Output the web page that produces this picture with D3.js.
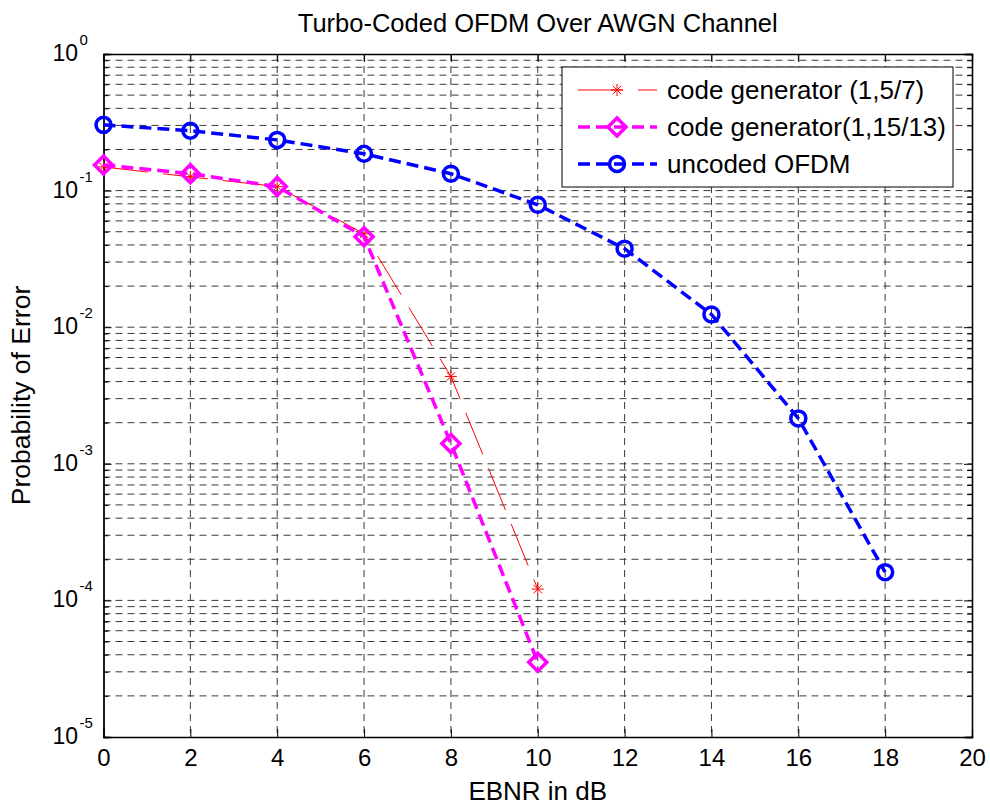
<!DOCTYPE html>
<html>
<head>
<meta charset="utf-8">
<script src="https://cdn.jsdelivr.net/npm/d3@7"></script>
<style>
  body { margin: 0; background: #fff; }
  text { font-family: "Liberation Sans", Arial, sans-serif; fill: #000; }
</style>
</head>
<body>
<div id="chart"></div>
<script>
// data
var ebnr = [0, 2, 4, 6, 8, 10, 12, 14, 16, 18];
var gen57 = [0.149, 0.126, 0.107, 0.0483, 0.00436, 0.000121];
var gen1513 = [0.154, 0.133, 0.107, 0.046, 0.00141, 0.0000353];
var uncoded = [0.303, 0.274, 0.235, 0.186, 0.133, 0.0787, 0.0376, 0.0124, 0.00215, 0.000161];
var xTicks = [0, 2, 4, 6, 8, 10, 12, 14, 16, 18, 20];
var yExp = [0, -1, -2, -3, -4, -5];

var svgW = 990, svgH = 807;
var margin = { top: 54, right: 18, bottom: 70, left: 103.5 };
var chartW = svgW - margin.left - margin.right;
var chartH = svgH - margin.top - margin.bottom;

var svg = d3.select("#chart").append("svg")
    .attr("width", svgW)
    .attr("height", svgH);

var chartG = svg.append("g")
    .attr("transform", `translate(${margin.left}, ${margin.top})`);

var xScale = d3.scaleLinear().domain([0, 20]).range([0, chartW]);
var yScale = d3.scaleLog().domain([1e-5, 1]).range([chartH, 0]);

// minor log positions
var minorY = [];
yExp.slice(1).forEach(function(e) {
    for (var k = 2; k <= 9; k++) minorY.push(k * Math.pow(10, e));
});

// grid
var gridG = chartG.append("g")
    .attr("stroke", "#3a3a3a")
    .attr("stroke-width", 1)
    .attr("stroke-dasharray", "7,5");

gridG.selectAll(".gx")
    .data(xTicks.slice(1, -1))
    .enter().append("line")
    .attr("x1", function(d) { return xScale(d) })
    .attr("x2", function(d) { return xScale(d) })
    .attr("y1", 0).attr("y2", chartH);

gridG.selectAll(".gy")
    .data(yExp.slice(1, -1).map(function(e) { return Math.pow(10, e) }).concat(minorY))
    .enter().append("line")
    .attr("x1", 0).attr("x2", chartW)
    .attr("y1", function(d) { return yScale(d) })
    .attr("y2", function(d) { return yScale(d) });

// axes with inward ticks
var bAxis = d3.axisBottom(xScale).tickValues(xTicks).tickSize(-8).tickPadding(12).tickFormat(d3.format("d"));
var tAxis = d3.axisTop(xScale).tickValues(xTicks).tickSize(-8).tickFormat("");
var lAxis = d3.axisLeft(yScale).tickValues(yExp.map(function(e) { return Math.pow(10, e) })).tickSize(-8).tickFormat("");
var rAxis = d3.axisRight(yScale).tickValues(yExp.map(function(e) { return Math.pow(10, e) })).tickSize(-8).tickFormat("");
var lMinor = d3.axisLeft(yScale).tickValues(minorY).tickSize(-5).tickFormat("");
var rMinor = d3.axisRight(yScale).tickValues(minorY).tickSize(-5).tickFormat("");

var xAxis = chartG.append("g").attr("transform", `translate(0, ${chartH})`).call(bAxis);
chartG.append("g").call(tAxis);
chartG.append("g").call(lAxis);
chartG.append("g").attr("transform", `translate(${chartW}, 0)`).call(rAxis);
chartG.append("g").call(lMinor);
chartG.append("g").attr("transform", `translate(${chartW}, 0)`).call(rMinor);

chartG.selectAll(".domain").attr("stroke", "#000").attr("stroke-width", 1.3);
chartG.selectAll(".tick line").attr("stroke", "#000");
xAxis.selectAll("text")
    .attr("dy", "0.71em")
    .style("font-family", "'Liberation Sans', Arial, sans-serif")
    .style("font-size", "24px")
    .attr("fill", "#000");

// y tick labels 10^e
var yLab = chartG.append("g").selectAll("g")
    .data(yExp)
    .enter().append("g")
    .attr("transform", function(e) { return `translate(0, ${yScale(Math.pow(10, e))})` });
yLab.append("text")
    .attr("x", -25.5)
    .attr("y", 7)
    .attr("text-anchor", "end")
    .style("font-size", "23px")
    .text("10");
yLab.append("text")
    .attr("x", -24)
    .attr("y", -9)
    .style("font-size", "15px")
    .text(function(e) { return e });

// lines
var line = d3.line()
    .x(function(d) { return xScale(d[0]) })
    .y(function(d) { return yScale(d[1]) });

var series = [
    { name: "code generator (1,5/7)", vals: gen57, color: "#ff0000", width: 1, dash: "45,15", marker: "star" },
    { name: "code generator(1,15/13)", vals: gen1513, color: "#ff00ff", width: 3.5, dash: "12,6", marker: "diamond" },
    { name: "uncoded OFDM", vals: uncoded, color: "#0000ff", width: 3.5, dash: "12,6", marker: "circle" }
];

function drawMarker(g, s, x, y) {
    if (s.marker == "star") {
        var r = 6;
        var st = g.append("g").attr("transform", `translate(${x}, ${y})`)
            .attr("stroke", s.color).attr("stroke-width", 1);
        st.append("line").attr("x1", -r).attr("x2", r).attr("y1", 0).attr("y2", 0);
        st.append("line").attr("x1", 0).attr("x2", 0).attr("y1", -r).attr("y2", r);
        st.append("line").attr("x1", -r * 0.7).attr("x2", r * 0.7).attr("y1", -r * 0.7).attr("y2", r * 0.7);
        st.append("line").attr("x1", -r * 0.7).attr("x2", r * 0.7).attr("y1", r * 0.7).attr("y2", -r * 0.7);
    } else if (s.marker == "diamond") {
        var r = 9;
        g.append("path")
            .attr("d", `M${x},${y - r}L${x + r},${y}L${x},${y + r}L${x - r},${y}Z`)
            .attr("fill", "none").attr("stroke", s.color).attr("stroke-width", 3.5);
    } else {
        g.append("circle")
            .attr("cx", x).attr("cy", y).attr("r", 7.5)
            .attr("fill", "none").attr("stroke", s.color).attr("stroke-width", 3.5);
    }
}

series.forEach(function(s) {
    var pts = s.vals.map(function(v, i) { return [ebnr[i], v] });
    chartG.append("path")
        .datum(pts)
        .attr("d", line)
        .attr("fill", "none")
        .attr("stroke", s.color)
        .attr("stroke-width", s.width)
        .attr("stroke-dasharray", s.dash);
    var mg = chartG.append("g");
    pts.forEach(function(p) { drawMarker(mg, s, xScale(p[0]), yScale(p[1])) });
});

// legend
var legX = 562 - margin.left, legY = 67 - margin.top;
var legG = chartG.append("g").attr("transform", `translate(${legX}, ${legY})`);
legG.append("rect")
    .attr("width", 391).attr("height", 120)
    .attr("fill", "#fff").attr("stroke", "#000").attr("stroke-width", 1);

series.forEach(function(s, i) {
    var y = 23 + i * 37;
    legG.append("line")
        .attr("x1", 16).attr("x2", 95).attr("y1", y).attr("y2", y)
        .attr("stroke", s.color).attr("stroke-width", s.width)
        .attr("stroke-dasharray", s.dash);
    drawMarker(legG, s, 55, y);
    legG.append("text")
        .attr("x", 105).attr("y", y + 8.5)
        .style("font-size", "26px")
        .text(s.name);
});

// title and labels
svg.append("text")
    .attr("x", margin.left + chartW / 2).attr("y", 32)
    .attr("text-anchor", "middle")
    .style("font-size", "25.5px")
    .text("Turbo-Coded OFDM Over AWGN Channel");

svg.append("text")
    .attr("x", margin.left + chartW / 2).attr("y", 800)
    .attr("text-anchor", "middle")
    .style("font-size", "26px")
    .text("EBNR in dB");

svg.append("text")
    .attr("transform", `translate(30, ${margin.top + chartH / 2}) rotate(-90)`)
    .attr("text-anchor", "middle")
    .style("font-size", "26.5px")
    .text("Probability of Error");
</script>
</body>
</html>
